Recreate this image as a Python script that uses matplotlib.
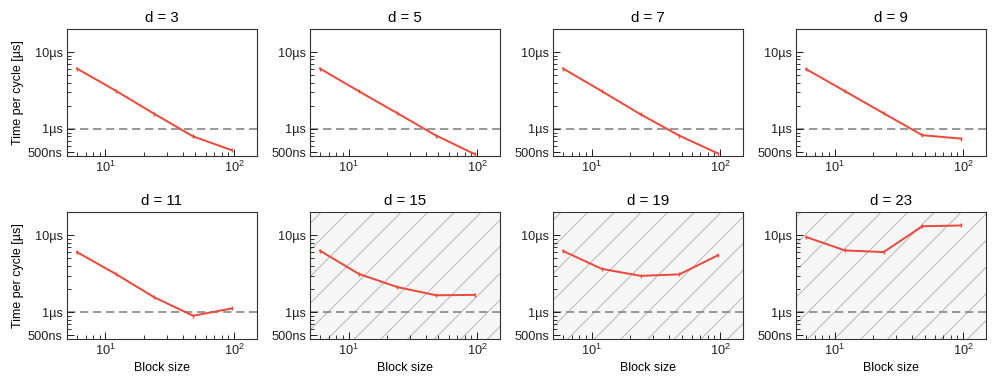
import matplotlib
matplotlib.use("Agg")
import matplotlib.pyplot as plt
from matplotlib.patches import Rectangle
from matplotlib.ticker import FixedLocator, FixedFormatter, LogLocator, NullFormatter

DPI = 80

plt.rcParams['font.family'] = ['Liberation Sans', 'DejaVu Sans']
plt.rcParams['hatch.linewidth'] = 0.9
plt.rcParams['hatch.color'] = '#b8b8b8'

# Data (time per cycle in microseconds)
block_sizes = [6, 12, 24, 48, 96]
distances = [3, 5, 7, 9, 11, 15, 19, 23]
t_d3 = [6.1, 3.15, 1.57, 0.80, 0.53]
t_d5 = [6.1, 3.1, 1.6, 0.82, 0.47]
t_d7 = [6.1, 3.1, 1.55, 0.82, 0.48]
t_d9 = [6.0, 3.1, 1.6, 0.83, 0.75]
t_d11 = [6.05, 3.15, 1.56, 0.9, 1.12]
t_d15 = [6.3, 3.15, 2.12, 1.66, 1.68]
t_d19 = [6.25, 3.66, 2.97, 3.1, 5.5]
t_d23 = [9.5, 6.35, 6.05, 13.1, 13.4]
series = [t_d3, t_d5, t_d7, t_d9, t_d11, t_d15, t_d19, t_d23]
hatched = [15, 19, 23]   # distances where real-time is out of reach

ytick_vals = [0.5, 1, 10]
ytick_labels = ['500ns', '1µs', '10µs']

line_color = '#e94b3c'

fig, axes = plt.subplots(2, 4, figsize=(996 / DPI, 390 / DPI), dpi=DPI)
fig.subplots_adjust(left=0.067, right=0.990, top=0.926, bottom=0.131,
                    wspace=0.279, hspace=0.445)

for i, ax in enumerate(axes.flat):
    d = distances[i]
    if d in hatched:
        ax.add_patch(Rectangle((0, 0), 1, 1, transform=ax.transAxes,
                               facecolor='#f7f7f7', edgecolor='#b8b8b8',
                               hatch='/', lw=0, zorder=0))
    ax.axhline(1, color='#888888', lw=1.5, dashes=(5, 2.8), zorder=1)
    ax.plot(block_sizes, series[i], color=line_color, lw=1.8,
            marker='|', markersize=4, markeredgewidth=1.2, zorder=3)
    ax.set_xscale('log')
    ax.set_yscale('log')
    ax.set_xlim(5, 150)
    ax.set_ylim(0.45, 20)
    ax.yaxis.set_major_locator(FixedLocator(ytick_vals))
    ax.yaxis.set_major_formatter(FixedFormatter(ytick_labels))
    ax.yaxis.set_minor_locator(LogLocator(base=10, subs=range(2, 10)))
    ax.yaxis.set_minor_formatter(NullFormatter())
    ax.tick_params(which='both', direction='in', labelsize=11.5,
                   colors='#222222', pad=3.5)
    ax.tick_params(which='major', length=6, width=0.9)
    ax.tick_params(which='minor', length=3.5, width=0.8)
    for s in ax.spines.values():
        s.set_color('#333333')
        s.set_linewidth(1.0)
    ax.set_title(f'd = {d}', fontsize=13.5, pad=6)
    if i % 4 == 0:
        ax.set_ylabel('Time per cycle [µs]', fontsize=11.3, labelpad=4)
    if i >= 4:
        ax.set_xlabel('Block size', fontsize=11.2, labelpad=4)

fig.savefig('out.png', dpi=DPI)
